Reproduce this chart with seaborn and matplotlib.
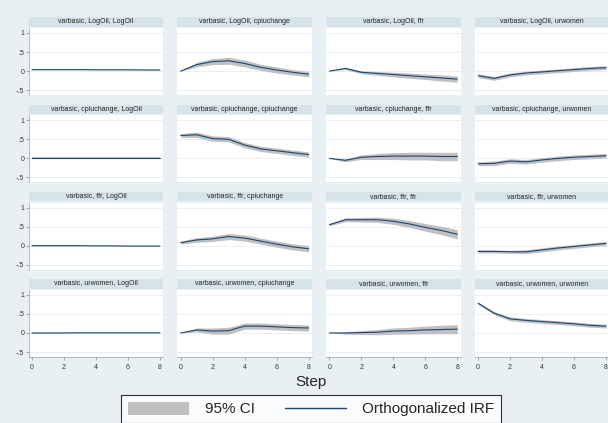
import numpy as np
import pandas as pd
import seaborn as sns
import matplotlib.pyplot as plt
from matplotlib.patches import Patch, Rectangle
from matplotlib.lines import Line2D

# Impulse-response data (varbasic)
steps = [0, 1, 2, 3, 4, 5, 6, 7, 8]
variables = ["LogOil", "cpiuchange", "ffr", "urwomen"]

# impulse LogOil
irf_oil_oil = [0.04, 0.04, 0.04, 0.04, 0.035, 0.035, 0.035, 0.03, 0.03]
irf_oil_cpi = [0.0, 0.17, 0.25, 0.27, 0.2, 0.1, 0.03, -0.03, -0.08]
irf_oil_ffr = [0.0, 0.07, -0.03, -0.06, -0.09, -0.12, -0.15, -0.18, -0.21]
irf_oil_ur = [-0.12, -0.19, -0.1, -0.05, -0.02, 0.01, 0.04, 0.07, 0.09]
# impulse cpiuchange
irf_cpi_oil = [0.02, 0.02, 0.02, 0.02, 0.02, 0.02, 0.02, 0.02, 0.02]
irf_cpi_cpi = [0.6, 0.62, 0.52, 0.5, 0.35, 0.25, 0.2, 0.15, 0.1]
irf_cpi_ffr = [0.0, -0.05, 0.03, 0.05, 0.06, 0.06, 0.06, 0.05, 0.05]
irf_cpi_ur = [-0.14, -0.13, -0.07, -0.09, -0.04, 0.0, 0.03, 0.05, 0.07]
# impulse ffr
irf_ffr_oil = [0.0, 0.0, 0.0, 0.0, -0.005, -0.005, -0.01, -0.01, -0.01]
irf_ffr_cpi = [0.08, 0.15, 0.18, 0.24, 0.2, 0.12, 0.04, -0.03, -0.08]
irf_ffr_ffr = [0.55, 0.68, 0.68, 0.68, 0.64, 0.57, 0.48, 0.4, 0.3]
irf_ffr_ur = [-0.15, -0.15, -0.16, -0.16, -0.11, -0.06, -0.02, 0.02, 0.06]
# impulse urwomen
irf_ur_oil = [0.0, 0.0, 0.0, 0.005, 0.005, 0.005, 0.005, 0.005, 0.005]
irf_ur_cpi = [0.0, 0.08, 0.05, 0.06, 0.18, 0.18, 0.16, 0.14, 0.13]
irf_ur_ffr = [0.0, 0.0, 0.01, 0.02, 0.05, 0.06, 0.08, 0.09, 0.1]
irf_ur_ur = [0.78, 0.52, 0.37, 0.33, 0.3, 0.27, 0.24, 0.2, 0.18]

# half widths of the 95% CI
ci_oil_oil = [0.005, 0.005, 0.005, 0.005, 0.005, 0.005, 0.005, 0.005, 0.005]
ci_oil_cpi = [0.0, 0.06, 0.08, 0.09, 0.09, 0.08, 0.08, 0.07, 0.07]
ci_oil_ffr = [0.0, 0.03, 0.04, 0.05, 0.06, 0.07, 0.07, 0.08, 0.08]
ci_oil_ur = [0.05, 0.05, 0.05, 0.05, 0.05, 0.05, 0.05, 0.05, 0.05]
ci_cpi_oil = [0.005, 0.005, 0.005, 0.005, 0.005, 0.005, 0.005, 0.005, 0.005]
ci_cpi_cpi = [0.05, 0.07, 0.07, 0.07, 0.07, 0.07, 0.07, 0.07, 0.07]
ci_cpi_ffr = [0.0, 0.04, 0.06, 0.08, 0.09, 0.1, 0.1, 0.11, 0.11]
ci_cpi_ur = [0.05, 0.06, 0.06, 0.06, 0.06, 0.06, 0.06, 0.06, 0.06]
ci_ffr_oil = [0.005, 0.005, 0.005, 0.005, 0.005, 0.005, 0.005, 0.005, 0.005]
ci_ffr_cpi = [0.04, 0.06, 0.07, 0.08, 0.08, 0.08, 0.08, 0.08, 0.08]
ci_ffr_ffr = [0.03, 0.05, 0.06, 0.07, 0.08, 0.09, 0.1, 0.11, 0.12]
ci_ffr_ur = [0.04, 0.04, 0.04, 0.05, 0.05, 0.05, 0.05, 0.05, 0.05]
ci_ur_oil = [0.005, 0.005, 0.005, 0.005, 0.005, 0.005, 0.005, 0.005, 0.005]
ci_ur_cpi = [0.0, 0.05, 0.08, 0.09, 0.08, 0.08, 0.08, 0.08, 0.08]
ci_ur_ffr = [0.0, 0.03, 0.05, 0.07, 0.08, 0.09, 0.1, 0.11, 0.12]
ci_ur_ur = [0.03, 0.04, 0.05, 0.05, 0.05, 0.05, 0.05, 0.05, 0.05]

yticks = [-0.5, 0, 0.5, 1]
ytick_labels = ["-.5", "0", ".5", "1"]
xticks = [0, 2, 4, 6, 8]

panels = [
    [(irf_oil_oil, ci_oil_oil), (irf_oil_cpi, ci_oil_cpi), (irf_oil_ffr, ci_oil_ffr), (irf_oil_ur, ci_oil_ur)],
    [(irf_cpi_oil, ci_cpi_oil), (irf_cpi_cpi, ci_cpi_cpi), (irf_cpi_ffr, ci_cpi_ffr), (irf_cpi_ur, ci_cpi_ur)],
    [(irf_ffr_oil, ci_ffr_oil), (irf_ffr_cpi, ci_ffr_cpi), (irf_ffr_ffr, ci_ffr_ffr), (irf_ffr_ur, ci_ffr_ur)],
    [(irf_ur_oil, ci_ur_oil), (irf_ur_cpi, ci_ur_cpi), (irf_ur_ffr, ci_ur_ffr), (irf_ur_ur, ci_ur_ur)],
]

bg = "#E9F0F3"
strip = "#D6E3E9"
band = "#C0C0C0"
navy = "#1A476F"

sns.set_style("white")
plt.rcParams["font.family"] = ["Liberation Sans", "DejaVu Sans"]

fig, axes = plt.subplots(4, 4, figsize=(6.08, 4.23), dpi=100, sharex=True, sharey=True)
fig.patch.set_facecolor(bg)
fig.subplots_adjust(left=28.5 / 608, right=609.5 / 608, top=1 - 28 / 423,
                    bottom=1 - 357 / 423, wspace=0.102, hspace=0.30)

for i, impulse in enumerate(variables):
    for j, response in enumerate(variables):
        ax = axes[i, j]
        irf, ci = panels[i][j]
        df = pd.DataFrame({"step": steps, "irf": irf, "ci": ci})
        ax.fill_between(df["step"], df["irf"] - df["ci"], df["irf"] + df["ci"],
                        color=band, linewidth=0, zorder=2)
        sns.lineplot(data=df, x="step", y="irf", ax=ax, color=navy, linewidth=0.8, zorder=3)
        ax.set_xlim(-0.22, 8.22)
        ax.set_ylim(-0.63, 1.13)
        ax.set_facecolor("white")
        for y in yticks:
            ax.axhline(y, color="#E6EDF0", linewidth=0.6, zorder=1)
        ax.set_xlabel("")
        ax.set_ylabel("")
        for s in ax.spines.values():
            s.set_visible(False)
        ax.set_yticks(yticks)
        ax.set_yticklabels(ytick_labels)
        ax.set_xticks(xticks)
        ax.tick_params(axis="y", left=(j == 0), labelleft=(j == 0), length=2,
                       width=0.5, color="#888888", labelsize=5, pad=1, labelcolor="#333333")
        ax.tick_params(axis="x", bottom=(i == 3), labelbottom=(i == 3), length=2,
                       width=0.5, color="#888888", labelsize=5, pad=3, labelcolor="#333333")
        if j == 0:
            ax.spines["left"].set_visible(True)
            ax.spines["left"].set_color("#9AA4A8")
            ax.spines["left"].set_linewidth(0.5)
        if i == 3:
            ax.spines["bottom"].set_visible(True)
            ax.spines["bottom"].set_color("#9AA4A8")
            ax.spines["bottom"].set_linewidth(0.5)
        # title strip
        ax.add_patch(Rectangle((0, 1.02), 1, 0.14, transform=ax.transAxes,
                               facecolor=strip, edgecolor="none", clip_on=False))
        ax.text(0.5, 1.09, f"varbasic, {impulse}, {response}", transform=ax.transAxes,
                ha="center", va="center", fontsize=5, color="#222222")

fig.text(311 / 608, 1 - 382 / 423, "Step", ha="center", va="center", fontsize=11)

handles = [Patch(facecolor=band, edgecolor="none"),
           Line2D([], [], color=navy, linewidth=1)]
leg = fig.legend(handles, ["95% CI", "Orthogonalized IRF"], loc="upper center",
                 bbox_to_anchor=(311 / 608, 1 - 395 / 423), ncol=2, fontsize=11,
                 frameon=True, fancybox=False, handlelength=4, handleheight=0.9,
                 columnspacing=2.0, borderpad=0.45, handletextpad=1.0,
                 borderaxespad=0)
leg.get_frame().set_edgecolor("black")
leg.get_frame().set_linewidth(0.8)
leg.get_frame().set_facecolor("white")

fig.savefig("out.png", dpi=100, facecolor=bg)
